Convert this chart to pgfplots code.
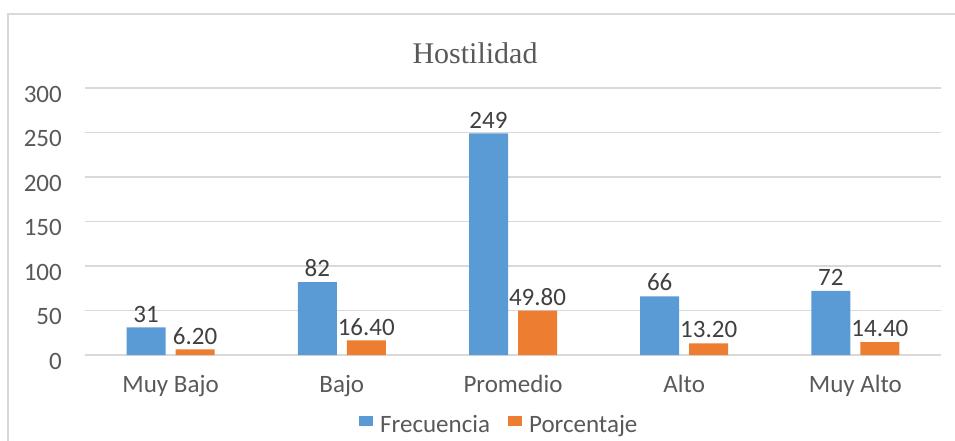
\documentclass[border=0pt]{standalone}
\usepackage{pgfplots}
\pgfplotsset{compat=1.18}
\usepackage{fontspec}
\setmainfont{Carlito}
\newfontfamily\titlefont{Liberation Serif}
\definecolor{barblue}{RGB}{91,155,213}
\definecolor{barorange}{RGB}{237,125,49}
\definecolor{txtgray}{RGB}{89,89,89}
\definecolor{lblgray}{RGB}{64,64,64}
\definecolor{gridgray}{RGB}{217,217,217}

\begin{document}
\begin{tikzpicture}[x=1pt,y=1pt]
	\useasboundingbox (0,0) rectangle (955,440);
	% chart frame, cut off on the right and at the bottom like the reference
	\draw[gridgray, line width=1.5pt] (8,426) rectangle (990,-60);
	\node[anchor=base, font=\titlefont\fontsize{30}{36}\selectfont, text=txtgray] at (475,376) {Hostilidad};
	\begin{axis}[at={(85pt,85pt)}, anchor=south west,
		scale only axis, width=856pt, height=267pt,
		ymin=0, ymax=300, ytick={0,50,...,300},
		xmin=-0.5, xmax=4.5, xtick={0,...,4},
		xticklabels={Muy Bajo,Bajo,Promedio,Alto,Muy Alto},
		axis line style={draw=none}, major tick length=0pt,
		ymajorgrids, grid style={gridgray, line width=1.5pt},
		ybar=10pt, bar width=39pt,
		/pgf/number format/assume math mode=true,
		tick label style={font=\fontsize{25}{30}\selectfont, text=txtgray, inner sep=0pt},
		yticklabel style={anchor=east, xshift=-23pt, yshift=-6pt},
		xticklabel style={anchor=north, yshift=-20pt},
		every node near coord/.append style={font=\fontsize{25}{30}\selectfont, text=lblgray, anchor=south, inner sep=0pt, yshift=5pt},
		legend style={at={(0.3166,-0.262)}, anchor=west, draw=none, fill=none,
			legend columns=-1, font=\fontsize{25}{30}\selectfont, text=txtgray,
			/tikz/every odd column/.append style={column sep=5pt},
			/tikz/every even column/.append style={column sep=16pt}},
		legend image code/.code={\fill[#1] (0pt,-1pt) rectangle (14pt,9pt);},
	]
	\addplot[draw=none, fill=barblue, nodes near coords] coordinates {
		(0,31) (1,82) (2,249) (3,66) (4,72)
	};
	\addplot[draw=none, fill=barorange,
		nodes near coords={\pgfmathprintnumber[fixed,fixed zerofill,precision=2]{\pgfplotspointmeta}}] coordinates {
		(0,6.2) (1,16.4) (2,49.8) (3,13.2) (4,14.4)
	};
	\legend{Frecuencia, Porcentaje}
	\end{axis}
\end{tikzpicture}
\end{document}
